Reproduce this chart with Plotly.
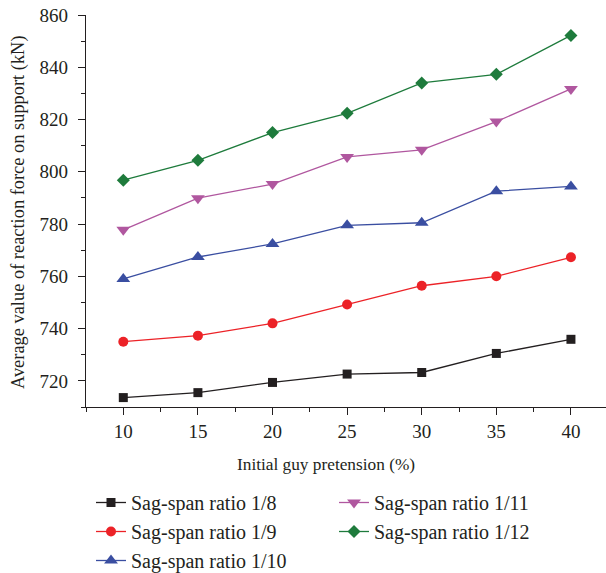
import plotly.graph_objects as go

pretension = [10, 15, 20, 25, 30, 35, 40]
ratio_1_8 = [713.6, 715.5, 719.4, 722.6, 723.2, 730.5, 735.9]
ratio_1_9 = [735.0, 737.3, 742.0, 749.2, 756.4, 760.0, 767.3]
ratio_1_10 = [759.0, 767.4, 772.4, 779.5, 780.5, 792.6, 794.4]
ratio_1_11 = [777.8, 789.9, 795.3, 805.7, 808.4, 819.2, 831.7]
ratio_1_12 = [796.8, 804.4, 815.0, 822.4, 834.0, 837.3, 852.2]

names = ["Sag-span ratio 1/8", "Sag-span ratio 1/9", "Sag-span ratio 1/10",
         "Sag-span ratio 1/11", "Sag-span ratio 1/12"]
series = [ratio_1_8, ratio_1_9, ratio_1_10, ratio_1_11, ratio_1_12]
colors = ["#231f20", "#ec2227", "#3a4ea1", "#b0579f", "#1e7b3c"]
symbols = ["square", "circle", "triangle-up", "triangle-down", "diamond"]
msizes = [9, 10, 12, 12, 10]
legends = ["legend", "legend", "legend", "legend2", "legend2"]

FONT = "Liberation Serif"

fig = go.Figure()
for n, s, c, sym, ms, lg in zip(names, series, colors, symbols, msizes, legends):
    fig.add_trace(go.Scatter(
        x=pretension, y=s, name=n, mode="lines+markers",
        line=dict(color=c, width=1.3),
        marker=dict(symbol=sym, size=ms, color=c),
        legend=lg,
    ))

W, H = 606, 573
L, R, T, B = 86, 0, 15, 166
PW, PH = W - L - R, H - T - B
fig.update_layout(
    width=W, height=H,
    margin=dict(l=L, r=R, t=T, b=B, autoexpand=False),
    paper_bgcolor="white", plot_bgcolor="white",
    font=dict(family=FONT, color="#231f20", size=17),
    legend=dict(xref="container", yref="container", x=91 / W, y=1 - 483 / H,
                xanchor="left", yanchor="top", font=dict(size=20),
                bgcolor="rgba(0,0,0,0)", tracegroupgap=0),
    legend2=dict(xref="container", yref="container", x=334 / W, y=1 - 483 / H,
                 xanchor="left", yanchor="top", font=dict(size=20),
                 bgcolor="rgba(0,0,0,0)", tracegroupgap=0),
    showlegend=True,
    annotations=[
        dict(text="Average value of reaction force on support (kN)",
             xref="paper", yref="paper", x=(18 - L) / PW, y=(PH - (212 - T)) / PH,
             textangle=-90, showarrow=False, xanchor="center", yanchor="middle",
             font=dict(size=18.4)),
        dict(text="Initial guy pretension (%)",
             xref="paper", yref="paper", x=(326 - L) / PW, y=-(464 - T - PH) / PH,
             showarrow=False, xanchor="center", yanchor="middle",
             font=dict(size=17.3)),
    ],
)
fig.update_xaxes(
    range=[7.5, 42.35], tickmode="linear", tick0=10, dtick=5,
    showgrid=False, zeroline=False, showline=True, linecolor="#231f20", linewidth=1.2,
    ticks="outside", ticklen=7, tickcolor="#231f20", tickwidth=1.2,
    minor=dict(ticks="outside", ticklen=4, dtick=2.5, tick0=7.5, tickcolor="#231f20", tickwidth=1.2),
    tickfont=dict(size=19), tickangle=0,
    automargin=False,
)
fig.update_yaxes(
    range=[710, 860], tickmode="linear", tick0=720, dtick=20,
    showgrid=False, zeroline=False, showline=True, linecolor="#231f20", linewidth=1.2,
    ticks="outside", ticklen=7, tickcolor="#231f20", tickwidth=1.2,
    minor=dict(ticks="outside", ticklen=4, dtick=10, tick0=710, tickcolor="#231f20", tickwidth=1.2),
    tickfont=dict(size=19), ticklabelstandoff=6,
    automargin=False,
)

fig.write_html("out.html")
